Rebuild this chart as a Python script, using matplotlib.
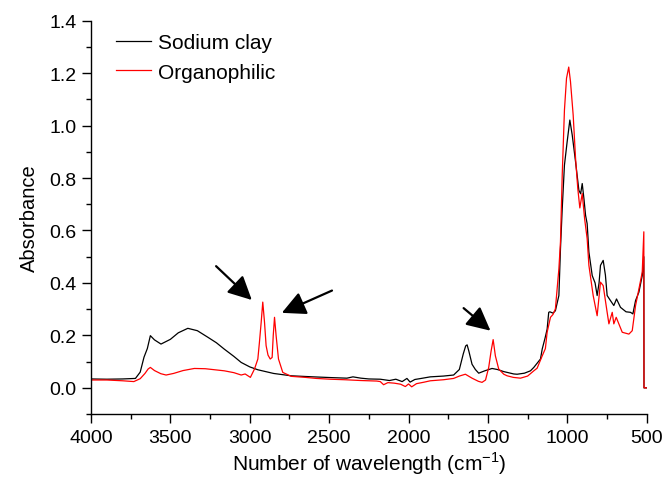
import matplotlib.pyplot as plt
from matplotlib.ticker import MultipleLocator

plt.rcParams['font.family'] = ['Liberation Sans', 'DejaVu Sans']
plt.rcParams['axes.unicode_minus'] = False

# FTIR spectra, wavenumber (cm-1) vs absorbance
sodium_x = [4000, 3900, 3800, 3720, 3690, 3666, 3645, 3626, 3600, 3559, 3500, 3450,
            3390, 3330, 3264, 3210, 3161, 3100, 3054, 3000, 2949, 2850, 2739, 2600,
            2480, 2388, 2350, 2300, 2250, 2178, 2120, 2080, 2040, 2010, 1990, 1960,
            1920, 1863, 1780, 1716, 1680, 1655, 1640, 1631, 1620, 1600, 1579, 1558,
            1520, 1474, 1440, 1400, 1337, 1316, 1270, 1232, 1211, 1169, 1158, 1140,
            1127, 1117, 1110, 1090, 1075, 1053, 1043, 1032, 1018, 1001, 984, 969,
            948, 927, 916, 906, 895, 885, 875, 864, 843, 825, 812, 800, 791, 774,
            760, 749, 725, 707, 690, 665, 630, 602, 587, 570, 549, 528, 518, 517, 500]
sodium_y = [0.034, 0.033, 0.034, 0.036, 0.06, 0.117, 0.15, 0.199, 0.183, 0.167, 0.185, 0.21,
            0.227, 0.218, 0.193, 0.172, 0.148, 0.12, 0.097, 0.08, 0.069, 0.055, 0.046, 0.042,
            0.039, 0.037, 0.042, 0.037, 0.034, 0.033, 0.028, 0.033, 0.024, 0.036, 0.022, 0.032,
            0.036, 0.042, 0.045, 0.049, 0.07, 0.13, 0.16, 0.164, 0.14, 0.09, 0.07, 0.056,
            0.065, 0.074, 0.07, 0.062, 0.053, 0.052, 0.056, 0.065, 0.078, 0.11, 0.148, 0.19,
            0.224, 0.288, 0.29, 0.285, 0.294, 0.352, 0.53, 0.683, 0.849, 0.938, 1.021, 0.964,
            0.862, 0.753, 0.74, 0.779, 0.72, 0.658, 0.626, 0.518, 0.428, 0.40, 0.352, 0.40, 0.467, 0.486,
            0.43, 0.352, 0.33, 0.314, 0.339, 0.307, 0.29, 0.288, 0.282, 0.333, 0.365, 0.428, 0.5, 0.0, 0.0]

organo_x = [4000, 3998, 3900, 3800, 3730, 3690, 3660, 3640, 3626, 3600, 3560, 3527,
            3480, 3420, 3349, 3280, 3220, 3160, 3100, 3054, 3029, 2996, 2970, 2949,
            2939, 2928, 2918, 2907, 2897, 2885, 2871, 2859, 2852, 2844, 2834, 2819,
            2792, 2739, 2650, 2580, 2493, 2400, 2300, 2200, 2178, 2157, 2130, 2090,
            2050, 2020, 2000, 1980, 1950, 1900, 1863, 1780, 1716, 1680, 1642, 1600,
            1560, 1537, 1515, 1495, 1480, 1467, 1453, 1432, 1400, 1379, 1340, 1295,
            1250, 1211, 1190, 1158, 1138, 1127, 1106, 1090, 1075, 1053, 1043, 1032,
            1018, 1005, 991, 980, 963, 948, 934, 921, 906, 891, 875, 864, 837, 812,
            791, 774, 749, 738, 717, 707, 692, 654, 612, 591, 570, 549, 528, 518, 517, 500]
organo_y = [0.0, 0.03, 0.030, 0.027, 0.024, 0.035, 0.055, 0.072, 0.078, 0.066, 0.054, 0.049,
            0.055, 0.066, 0.074, 0.073, 0.069, 0.065, 0.058, 0.049, 0.053, 0.040, 0.072, 0.110,
            0.174, 0.25, 0.327, 0.25, 0.161, 0.125, 0.110, 0.116, 0.2, 0.269, 0.199, 0.110,
            0.059, 0.044, 0.040, 0.036, 0.033, 0.031, 0.028, 0.026, 0.024, 0.012, 0.02, 0.018,
            0.014, 0.005, 0.015, 0.004, 0.016, 0.022, 0.027, 0.031, 0.036, 0.045, 0.052, 0.037,
            0.025, 0.021, 0.03, 0.078, 0.14, 0.184, 0.122, 0.072, 0.052, 0.046, 0.040, 0.037,
            0.045, 0.065, 0.075, 0.122, 0.15, 0.212, 0.269, 0.28, 0.301, 0.454, 0.557, 0.811,
            1.059, 1.18, 1.223, 1.168, 1.04, 0.875, 0.76, 0.686, 0.741, 0.645, 0.569, 0.467, 0.352, 0.275,
            0.403, 0.39, 0.288, 0.244, 0.288, 0.244, 0.269, 0.212, 0.205, 0.218, 0.314, 0.377, 0.441, 0.595, 0.0, 0.0]

# arrows pointing at the C-H bands: (tail, head)
arrows = [((3212, 0.464), (2987, 0.335)),
          ((2482, 0.371), (2798, 0.286)),
          ((1653, 0.304), (1484, 0.218))]

fig = plt.figure(figsize=(6.66, 4.81), dpi=100)
ax = fig.add_axes([0.1366, 0.137, 0.8344, 0.818])

ax.plot(sodium_x, sodium_y, color='black', lw=0.9, label='Sodium clay')
ax.plot(organo_x, organo_y, color='#ff0000', lw=0.9, label='Organophilic')

for tail, head in arrows:
    ax.annotate('', xy=head, xytext=tail,
                arrowprops=dict(arrowstyle='-|>,head_length=0.9,head_width=0.45',
                                color='black', lw=1.6, mutation_scale=16,
                                shrinkA=0, shrinkB=0))

ax.set_xlim(4000, 500)
ax.set_ylim(-0.1, 1.4)
ax.xaxis.set_major_locator(MultipleLocator(500))
ax.xaxis.set_minor_locator(MultipleLocator(250))
ax.yaxis.set_major_locator(MultipleLocator(0.2))
ax.yaxis.set_minor_locator(MultipleLocator(0.1))
ax.yaxis.set_major_formatter(plt.FuncFormatter(lambda v, p: f'{v:.1f}'))

for side in ['top', 'right']:
    ax.spines[side].set_visible(False)
for side in ['left', 'bottom']:
    ax.spines[side].set_linewidth(1.0)

ax.tick_params(which='major', direction='out', length=6.5, width=1.0, labelsize=14, pad=4)
ax.tick_params(which='minor', direction='out', length=3.5, width=1.0)

ax.set_xlabel('Number of wavelength (cm$^{\\mathregular{-1}}$)', fontsize=15, labelpad=3)
ax.set_ylabel('Absorbance', fontsize=14.5, labelpad=7)

ax.legend(loc='upper left', bbox_to_anchor=(0.018, 1.005), frameon=False, fontsize=15,
          handlelength=1.7, handletextpad=0.35, labelspacing=0.5, borderpad=0.2)

fig.savefig('out.png', dpi=100)
